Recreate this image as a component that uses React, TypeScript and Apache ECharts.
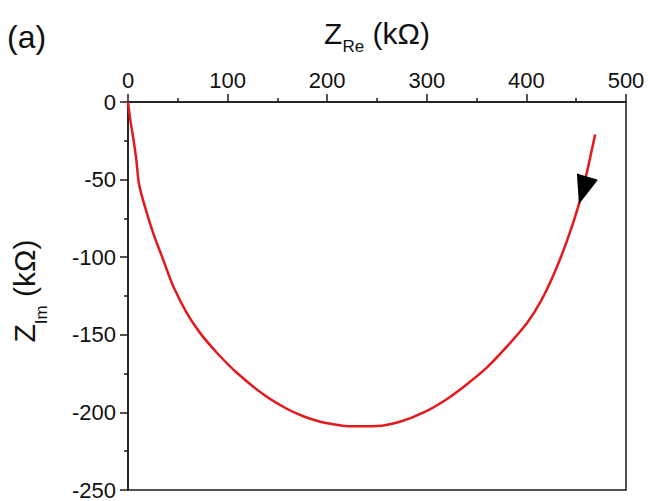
import React, { useEffect, useRef } from "react";
import * as echarts from "echarts";

const Z_RE = [0, 2.4, 5.7, 8.5, 10.8, 15.1, 25.2, 35.2, 45.3, 58.8, 72.1, 89, 109, 135.8, 159, 176, 193, 206, 223, 250, 273, 297, 320, 340, 360.5, 380.5, 401, 414, 427.5, 441, 452.7, 461, 469];
const Z_IM = [0, -12, -25, -38, -52, -63.2, -84.3, -101.4, -118.6, -135.7, -148.6, -161.4, -174.3, -188.3, -197.5, -202.5, -206, -207.6, -209, -208.8, -206, -200, -191.5, -182, -171, -157.5, -142, -129, -111, -89, -66, -44.6, -21];
const X_RANGE = [0, 500];
const X_STEP = 100;
const Y_RANGE = [-250, 0];
const Y_STEP = 50;
const ARROW_AT = [457, -57];
const PANEL_LABEL = "(a)";

const FONT = "'Liberation Sans', Arial, Helvetica, sans-serif";
const INK = "#1a1a1a";

export default function App() {
  const ref = useRef<HTMLDivElement>(null);
  useEffect(() => {
    if (!ref.current) return;
    const chart = echarts.init(ref.current, undefined, { renderer: "svg" });
    const data = Z_RE.map((x, i) => [x, Z_IM[i]]);
    const axisCommon = {
      axisLine: { show: true, onZero: false, lineStyle: { color: INK, width: 1.5 } },
      axisTick: { show: true, inside: false, length: 8, lineStyle: { color: INK, width: 1.5 } },
      minorTick: { show: true, splitNumber: 2, length: 4, lineStyle: { color: INK, width: 1.5 } },
      splitLine: { show: false },
      minorSplitLine: { show: false },
      axisLabel: { color: "#111", fontSize: 22, fontFamily: FONT },
    };
    chart.setOption({
      animation: false,
      backgroundColor: "#fff",
      textStyle: { fontFamily: FONT },
      graphic: [
        {
          type: "text",
          left: 7,
          top: 21,
          style: { text: PANEL_LABEL, fontSize: 32, fontFamily: FONT, fill: "#111" },
        },
      ],
      grid: {
        left: 128,
        right: 22,
        top: 102,
        bottom: 10,
        show: true,
        borderColor: INK,
        borderWidth: 1.5,
        backgroundColor: "transparent",
      },
      xAxis: {
        type: "value",
        position: "top",
        min: X_RANGE[0],
        max: X_RANGE[1],
        interval: X_STEP,
        ...axisCommon,
        axisLabel: { ...axisCommon.axisLabel, margin: 11 },
        name: "{z|Z}{s|Re}{z| (kΩ)}",
        nameLocation: "middle",
        nameGap: 47,
        nameTextStyle: {
          color: "#111",
          fontFamily: FONT,
          rich: {
            z: { fontSize: 30, lineHeight: 44, fontFamily: FONT, color: "#111" },
            s: { fontSize: 17, lineHeight: 17, verticalAlign: "bottom", fontFamily: FONT, color: "#111" },
          },
        },
      },
      yAxis: {
        type: "value",
        position: "left",
        min: Y_RANGE[0],
        max: Y_RANGE[1],
        interval: Y_STEP,
        ...axisCommon,
        axisLabel: { ...axisCommon.axisLabel, margin: 12 },
        name: "{z|Z}{s|Im}{z| (kΩ)}",
        nameLocation: "middle",
        nameGap: 78,
        nameTextStyle: {
          color: "#111",
          fontFamily: FONT,
          padding: [0, 0, 0, 10],
          rich: {
            z: { fontSize: 30, lineHeight: 52, fontFamily: FONT, color: "#111" },
            s: { fontSize: 17, lineHeight: 17, verticalAlign: "bottom", fontFamily: FONT, color: "#111" },
          },
        },
      },
      series: [
        {
          type: "line",
          data,
          showSymbol: false,
          smooth: 0.3,
          lineStyle: { color: "#e3191c", width: 2.5 },
          markPoint: {
            silent: true,
            data: [
              {
                coord: ARROW_AT,
                symbol: "triangle",
                symbolSize: [22, 29],
                symbolRotate: 163,
                itemStyle: { color: "#000" },
                label: { show: false },
              },
            ],
          },
        },
      ],
    });
    return () => chart.dispose();
  }, []);
  return (
    <div
      ref={ref}
      style={{ position: "fixed", left: 0, top: 0, width: 648, height: 501, background: "#fff" }}
    />
  );
}
